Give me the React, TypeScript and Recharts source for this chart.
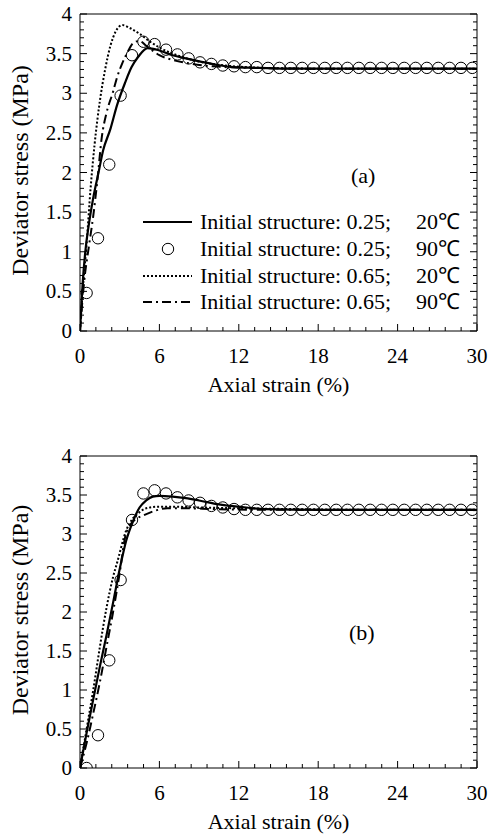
import React from "react";
import {
  ComposedChart,
  Label,
  Legend,
  Line,
  ReferenceDot,
  Scatter,
  XAxis,
  YAxis,
} from "recharts";

const FONT = "'Liberation Serif', 'Times New Roman', serif";

// axis ticks
const xTicks = [0, 1.2, 2.4, 3.6, 4.8, 6, 7.2, 8.4, 9.6, 10.8, 12, 13.2, 14.4, 15.6, 16.8, 18, 19.2, 20.4, 21.6, 22.8, 24, 25.2, 26.4, 27.6, 28.8, 30];
const yTicks = Array.from({ length: 41 }, (_, i) => Math.round(i * 10) / 100);

const legendLabels = [
  ["Initial structure: 0.25;", "20℃"],
  ["Initial structure: 0.25;", "90℃"],
  ["Initial structure: 0.65;", "20℃"],
  ["Initial structure: 0.65;", "90℃"],
];

// measured points (strain %) for both panels
const circleStrain = [0.5, 1.36, 2.21, 3.07, 3.93, 4.79, 5.64, 6.5, 7.36, 8.21, 9.07, 9.93, 10.79, 11.64, 12.5, 13.36, 14.21, 15.07, 15.93, 16.79, 17.64, 18.5, 19.36, 20.21, 21.07, 21.93, 22.79, 23.64, 24.5, 25.36, 26.21, 27.07, 27.93, 28.79, 29.64];

// panel (a)
const solidAx = [0, 0.2, 0.4, 0.7, 1.0, 1.4, 1.75, 2.3, 2.8, 3.4, 3.9, 4.4, 5.1, 6.0, 7.0, 8.0, 9.1, 10.3, 11.6, 13.5, 16, 20, 25, 30];
const solidAy = [0, 0.6, 1.0, 1.38, 1.68, 2.0, 2.28, 2.55, 2.85, 3.13, 3.33, 3.46, 3.57, 3.54, 3.48, 3.44, 3.4, 3.36, 3.33, 3.32, 3.31, 3.31, 3.31, 3.31];
const circleAy = [0.48, 1.17, 2.1, 2.97, 3.48, 3.65, 3.62, 3.55, 3.49, 3.44, 3.39, 3.37, 3.35, 3.34, 3.33, 3.33, 3.32, 3.32, 3.32, 3.32, 3.32, 3.32, 3.32, 3.32, 3.32, 3.32, 3.32, 3.32, 3.32, 3.32, 3.32, 3.32, 3.32, 3.32, 3.32];
const dottedAx = [0, 0.2, 0.5, 0.8, 1.1, 1.5, 1.9, 2.3, 2.7, 3.2, 3.8, 4.5, 5.3, 6.2, 7.5, 9, 11, 14, 18, 24, 30];
const dottedAy = [0, 0.5, 1.1, 1.8, 2.35, 2.9, 3.3, 3.6, 3.78, 3.86, 3.82, 3.75, 3.65, 3.56, 3.47, 3.4, 3.35, 3.32, 3.31, 3.31, 3.31];
const dashAx = [0, 0.3, 0.7, 1.0, 1.3, 1.65, 2.0, 2.5, 2.8, 3.2, 3.6, 4.0, 4.5, 5.0, 6.0, 7.0, 8.5, 10, 13, 18, 24, 30];
const dashAy = [0, 0.6, 1.1, 1.45, 1.88, 2.45, 2.75, 3.02, 3.2, 3.38, 3.52, 3.63, 3.66, 3.6, 3.48, 3.42, 3.37, 3.34, 3.32, 3.31, 3.31, 3.31];

// panel (b)
const solidBx = [0, 0.5, 1.0, 1.5, 2.0, 2.5, 3.0, 3.5, 4.0, 4.5, 5.0, 5.5, 6.0, 7.0, 8.0, 9.0, 10.5, 12, 14, 18, 24, 30];
const solidBy = [0, 0.45, 0.88, 1.3, 1.7, 2.12, 2.55, 2.92, 3.16, 3.34, 3.43, 3.48, 3.49, 3.48, 3.46, 3.43, 3.38, 3.35, 3.32, 3.31, 3.31, 3.31];
const circleBy = [0, 0.42, 1.38, 2.41, 3.18, 3.52, 3.56, 3.52, 3.47, 3.43, 3.4, 3.36, 3.34, 3.32, 3.31, 3.31, 3.31, 3.31, 3.31, 3.31, 3.31, 3.31, 3.31, 3.31, 3.31, 3.31, 3.31, 3.31, 3.31, 3.31, 3.31, 3.31, 3.31, 3.31, 3.31];
const dottedBx = [0, 0.5, 1.0, 1.5, 2.0, 2.5, 2.8, 3.5, 4.0, 4.5, 5.0, 6.0, 7.0, 9.0, 12, 16, 22, 30];
const dottedBy = [0, 0.5, 1.0, 1.55, 2.05, 2.45, 2.63, 3.05, 3.2, 3.28, 3.33, 3.35, 3.35, 3.34, 3.33, 3.32, 3.31, 3.31];
const dashBx = [0, 0.5, 1.0, 1.5, 2.0, 2.5, 3.0, 3.4, 3.8, 4.3, 4.8, 5.7, 6.6, 8, 10, 14, 20, 30];
const dashBy = [0, 0.32, 0.7, 1.1, 1.55, 2.0, 2.5, 2.95, 3.12, 3.2, 3.24, 3.3, 3.33, 3.33, 3.32, 3.31, 3.31, 3.31];

const zip = (xs: number[], ys: number[]) => xs.map((x, i) => ({ x, y: ys[i] }));

const isMajor = (v: number, step: number) => Math.abs(v / step - Math.round(v / step)) < 1e-6;

function BottomTick({ x, y, payload }: any) {
  const major = isMajor(payload.value, 6);
  return (
    <g>
      <line x1={x} x2={x} y1={y} y2={y - (major ? 7 : 4)} stroke="#000" />
      {major && (
        <text x={x} y={y + 32} textAnchor="middle" fontSize={21} fontFamily={FONT} fill="#000">
          {payload.value}
        </text>
      )}
    </g>
  );
}

function TopTick({ x, y, payload }: any) {
  const major = isMajor(payload.value, 6);
  return <line x1={x} x2={x} y1={y} y2={y + (major ? 7 : 4)} stroke="#000" />;
}

function LeftTick({ x, y, payload }: any) {
  const major = isMajor(payload.value, 0.5);
  return (
    <g>
      <line x1={x} x2={x + (major ? 7 : 4)} y1={y} y2={y} stroke="#000" />
      {major && (
        <text x={x - 8} y={y + 7} textAnchor="end" fontSize={21} fontFamily={FONT} fill="#000">
          {payload.value}
        </text>
      )}
    </g>
  );
}

function RightTick({ x, y, payload }: any) {
  const major = isMajor(payload.value, 0.5);
  return <line x1={x} x2={x - (major ? 7 : 4)} y1={y} y2={y} stroke="#000" />;
}

function XTitle({ viewBox }: any) {
  return (
    <text x={viewBox.x + viewBox.width / 2} y={viewBox.y + 61} textAnchor="middle" fontSize={22} fontFamily={FONT} fill="#000">
      Axial strain (%)
    </text>
  );
}

function YTitle({ viewBox }: any) {
  const cx = 20;
  const cy = viewBox.y + viewBox.height / 2 - 2;
  return (
    <text x={cx} y={cy} transform={`rotate(-90, ${cx}, ${cy})`} textAnchor="middle" dominantBaseline="central" fontSize={24} fontFamily={FONT} fill="#000">
      Deviator stress (MPa)
    </text>
  );
}

function LegendBox() {
  const rows = [14, 41, 68, 94];
  return (
    <svg width={340} height={110} style={{ display: "block" }}>
      <line x1={3} x2={52} y1={rows[0]} y2={rows[0]} stroke="#000" strokeWidth={2.2} />
      <circle cx={28} cy={rows[1]} r={5.7} fill="none" stroke="#000" />
      <line x1={3} x2={52} y1={rows[2]} y2={rows[2]} stroke="#000" strokeWidth={2} strokeDasharray="2 2" />
      <line x1={3} x2={52} y1={rows[3]} y2={rows[3]} stroke="#000" strokeWidth={2} strokeDasharray="9 4 2 4" />
      {legendLabels.map(([a, b], i) => (
        <g key={i} fontSize={22} fontFamily={FONT} fill="#000">
          <text x={60} y={rows[i] + 7}>{a}</text>
          <text x={320} y={rows[i] + 7} textAnchor="end">{b}</text>
        </g>
      ))}
    </svg>
  );
}

const circleShape = (p: any) => <circle cx={p.cx} cy={p.cy} r={5.7} fill="none" stroke="#000" strokeWidth={1} />;

type Pt = { x: number; y: number };
type PanelProps = {
  height: number;
  top: number;
  bottom: number;
  solid: Pt[];
  circles: Pt[];
  dotted: Pt[];
  dash: Pt[];
  tag: string;
  tagAt: [number, number];
  legend?: boolean;
};

// plot area spans x 80..477; axes are 1px wide so the margins are 1 smaller
function Panel({ height, top, bottom, solid, circles, dotted, dash, tag, tagAt, legend }: PanelProps) {
  return (
    <ComposedChart width={489} height={height} margin={{ top: top - 1, right: 11, bottom: bottom - 1, left: 79 }}>
      <XAxis
        dataKey="x"
        type="number"
        domain={[0, 30]}
        ticks={xTicks}
        interval={0}
        height={1}
        tickSize={0}
        tickMargin={0}
        tick={<BottomTick />}
        axisLine={{ stroke: "#000" }}
        allowDataOverflow
      >
        <Label content={<XTitle />} />
      </XAxis>
      <XAxis
        xAxisId="t"
        orientation="top"
        type="number"
        domain={[0, 30]}
        ticks={xTicks}
        interval={0}
        height={1}
        tickSize={0}
        tickMargin={0}
        tick={<TopTick />}
        axisLine={{ stroke: "#000" }}
        allowDataOverflow
      />
      <YAxis
        dataKey="y"
        type="number"
        domain={[0, 4]}
        ticks={yTicks}
        interval={0}
        width={1}
        tickSize={0}
        tickMargin={0}
        tick={<LeftTick />}
        axisLine={{ stroke: "#000" }}
        allowDataOverflow
      >
        <Label content={<YTitle />} />
      </YAxis>
      <YAxis
        yAxisId="r"
        orientation="right"
        type="number"
        domain={[0, 4]}
        ticks={yTicks}
        interval={0}
        width={1}
        tickSize={0}
        tickMargin={0}
        tick={<RightTick />}
        axisLine={{ stroke: "#000" }}
        allowDataOverflow
      />
      <Line data={dotted} dataKey="y" type="monotone" stroke="#000" strokeWidth={2} strokeDasharray="2 2" dot={false} isAnimationActive={false} />
      <Line data={dash} dataKey="y" type="monotone" stroke="#000" strokeWidth={2} strokeDasharray="9 4 2 4" dot={false} isAnimationActive={false} />
      <Line data={solid} dataKey="y" type="monotone" stroke="#000" strokeWidth={2.2} dot={false} isAnimationActive={false} />
      <Scatter data={circles} dataKey="y" shape={circleShape} isAnimationActive={false} />
      <ReferenceDot
        x={tagAt[0]}
        y={tagAt[1]}
        r={0}
        stroke="none"
        label={{ value: tag, position: "center", fontSize: 22, fontFamily: FONT, fill: "#000" }}
      />
      {legend && (
        <Legend
          layout="vertical"
          align="center"
          verticalAlign="middle"
          content={() => <LegendBox />}
          wrapperStyle={{ left: 140, top: 208, width: 340, height: 110 }}
        />
      )}
    </ComposedChart>
  );
}

export default function App() {
  return (
    <div style={{ position: "absolute", left: 0, top: 0, width: 489, height: 837, background: "#fff" }}>
      <div style={{ position: "absolute", left: 0, top: 0 }}>
        <Panel
          height={420}
          top={14}
          bottom={89}
          solid={zip(solidAx, solidAy)}
          circles={zip(circleStrain, circleAy)}
          dotted={zip(dottedAx, dottedAy)}
          dash={zip(dashAx, dashAy)}
          tag="(a)"
          tagAt={[21.4, 1.97]}
          legend
        />
      </div>
      <div style={{ position: "absolute", left: 0, top: 420 }}>
        <Panel
          height={417}
          top={36}
          bottom={69}
          solid={zip(solidBx, solidBy)}
          circles={zip(circleStrain, circleBy)}
          dotted={zip(dottedBx, dottedBy)}
          dash={zip(dashBx, dashBy)}
          tag="(b)"
          tagAt={[21.3, 1.74]}
        />
      </div>
    </div>
  );
}
